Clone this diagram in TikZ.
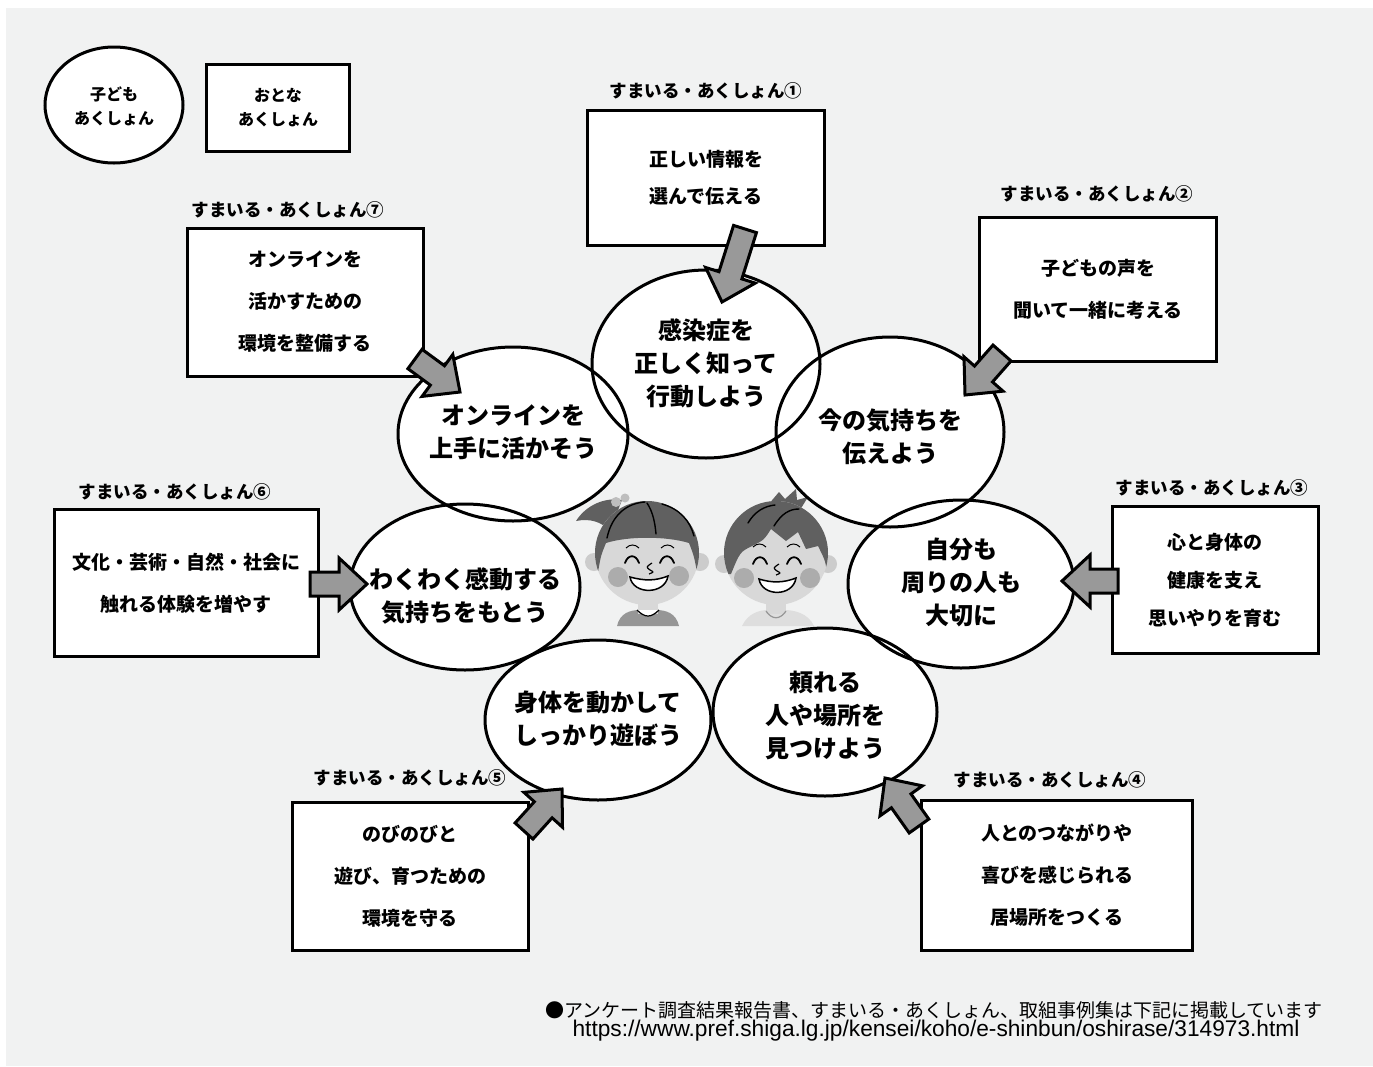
\documentclass[tikz,border=0pt]{standalone}
\usepackage{fontspec}
\setmainfont{Noto Sans CJK JP}
\newfontfamily\urlfont{Liberation Sans}
\usetikzlibrary{calc}

\definecolor{bg}{RGB}{241,242,242}
\definecolor{arrowgray}{RGB}{153,153,153}
\definecolor{hairgray}{RGB}{96,96,96}
\definecolor{skin}{RGB}{216,216,216}
\definecolor{earskin}{RGB}{204,204,204}
\definecolor{cheek}{RGB}{172,172,172}
\definecolor{bowgray}{RGB}{190,190,190}
\definecolor{shirtdark}{RGB}{150,150,150}
\definecolor{shirtlight}{RGB}{222,222,222}

% fat block arrow from tail #1 to tip #2
\newcommand\fatarrow[2]{%
  \coordinate (fab) at ($(#2)!28pt!(#1)$);
  \filldraw[fat] ($(#1)!12pt!90:(#2)$) -- ($(fab)!12pt!90:(#2)$)
    -- ($(fab)!26pt!90:(#2)$) -- (#2) -- ($(fab)!26pt!-90:(#2)$)
    -- ($(fab)!12pt!-90:(#2)$) -- ($(#1)!12pt!-90:(#2)$) -- cycle;}

\begin{document}
\begin{tikzpicture}
  [x=1pt,y=-1pt,
   kidline/.style={line width=3pt},
   kidtext/.style={align=center,font=\fontsize{24}{33}\selectfont\bfseries},
   boxline/.style={draw,fill=white,line width=3pt,inner sep=0pt},
   boxtext/.style={align=center,font=\fontsize{19}{42}\selectfont\bfseries},
   tag/.style={font=\fontsize{17.5}{20}\selectfont\bfseries},
   fat/.style={fill=arrowgray,draw=black,line width=3pt,line join=miter},
   strand/.style={line width=1.4pt,line cap=round},
   feature/.style={line width=1.8pt,line cap=round}]
  \useasboundingbox (0,0) rectangle (1373,1066);
  \fill[bg] (6,8) rectangle (1373,1066);

  % legend
  \draw[kidline,fill=white] (114,105) ellipse [x radius=69pt, y radius=58pt];
  \node[align=center,font=\fontsize{16}{24}\selectfont\bfseries] (lk) at (114,106) {子ども\\あくしょん};
  \node[boxline,minimum width=143pt,minimum height=87pt,align=center,
        font=\fontsize{16}{24}\selectfont\bfseries] (la) at (278,108) {おとな\\あくしょん};

  % girl
  \fill[shirtdark] (617,626) .. controls (620,613) and (630,610) .. (640,610)
    -- (656,610) .. controls (666,610) and (676,613) .. (679,626) -- cycle;
  \fill[skin] (638,596) rectangle (658,614);
  \draw[line width=1.2pt,fill=white] (637,610) .. controls (645,618) and (651,618) .. (659,610);
  \fill[earskin] (594,562) circle (9pt) (700,562) circle (9pt);
  \fill[hairgray] (622,500) .. controls (605,497) and (586,505) .. (576,521)
    .. controls (590,518) and (602,522) .. (610,531) -- cycle;
  \fill[bowgray] (616,502) circle (5pt) (625,498) circle (4.5pt);
  \fill[skin] (647,553) circle (52pt);
  \begin{scope}
    \clip (647,553) circle (52pt);
    \fill[hairgray] (590,495) -- (705,495) -- (705,572) -- (697,572)
      .. controls (694,556) .. (689,543) .. controls (666,536) and (628,536) .. (606,543)
      .. controls (601,555) .. (598,572) -- (590,572) -- cycle;
  \end{scope}
  \draw[strand] (607,538) .. controls (612,514) and (628,503) .. (645,502);
  \draw[strand] (647,503) .. controls (653,512) and (655,523) .. (656,534);
  \draw[strand] (662,504) .. controls (680,509) and (690,521) .. (694,536);
  \draw[line width=1pt] (626,548) .. controls (630,544) and (635,544) .. (639,548)
    (661,548) .. controls (665,544) and (670,544) .. (674,548);
  \draw[feature] (625,563) .. controls (628,554) and (636,554) .. (639,563)
    (660,563) .. controls (663,554) and (671,554) .. (674,563);
  \draw[line width=1.2pt] (652,563) .. controls (646,567) .. (650,570) .. controls (654,572) .. (649,574);
  \fill[cheek] (618,577) circle (10pt) (679,576) circle (10pt);
  \filldraw[fill=white,line width=1.5pt] (630,577) .. controls (645,581) and (655,581) .. (668,576)
    .. controls (665,595) and (633,595) .. cycle;

  % boy
  \fill[shirtlight] (742,626) .. controls (748,613) and (760,610) .. (768,610)
    -- (784,610) .. controls (794,610) and (808,613) .. (814,626) -- cycle;
  \fill[skin] (766,596) rectangle (786,614);
  \draw[line width=1.2pt,draw=shirtdark] (766,611) .. controls (772,620) and (780,620) .. (786,611);
  \fill[earskin] (724,564) circle (9pt) (828,564) circle (9pt);
  \fill[hairgray] (768,505) -- (779,492) -- (785,499) -- (796,489) -- (797,500) -- (808,497) -- (800,510) -- cycle;
  \fill[skin] (776,553) circle (52pt);
  \begin{scope}
    \clip (776,553) circle (52pt);
    \fill[hairgray] (720,495) -- (835,495) -- (835,578) -- (827,578)
      .. controls (826,562) .. (818,546) -- (806,549) -- (798,532) -- (786,541)
      -- (771,529) .. controls (764,540) .. (752,546) .. controls (740,552) .. (731,574)
      -- (720,574) -- cycle;
  \end{scope}
  \draw[strand] (748,523) .. controls (755,511) and (765,506) .. (775,505);
  \draw[strand] (774,526) .. controls (782,513) and (790,509) .. (799,509);
  \draw[line width=1pt] (753,547) .. controls (757,543) and (762,543) .. (766,547)
    (787,547) .. controls (791,543) and (796,543) .. (800,547);
  \draw[feature] (753,564) .. controls (756,555) and (764,555) .. (767,564)
    (787,564) .. controls (790,555) and (798,555) .. (801,564);
  \draw[line width=1.2pt] (779,564) .. controls (773,568) .. (777,571) .. controls (781,573) .. (776,575);
  \fill[cheek] (744,578) circle (10pt) (810,578) circle (10pt);
  \filldraw[fill=white,line width=1.5pt] (759,579) .. controls (772,583) and (783,583) .. (796,578)
    .. controls (793,597) and (762,597) .. cycle;

  % child actions
  \foreach \x/\y/\rx/\ry in {706/364/114/94, 890/432/114/95, 961/584/113/84,
      825/712/112/84, 598/720/113/80, 465/587/115/83, 513/434/115/87}
    \fill[white] (\x,\y) ellipse [x radius=\rx pt, y radius=\ry pt];
  \foreach \x/\y/\rx/\ry in {706/364/114/94, 890/432/114/95, 961/584/113/84,
      825/712/112/84, 598/720/113/80, 465/587/115/83, 513/434/115/87}
    \draw[kidline] (\x,\y) ellipse [x radius=\rx pt, y radius=\ry pt];
  \node[kidtext] (k1) at (706,363) {感染症を\\正しく知って\\行動しよう};
  \node[kidtext] (k2) at (890,437) {今の気持ちを\\伝えよう};
  \node[kidtext] (k3) at (961,582) {自分も\\周りの人も\\大切に};
  \node[kidtext] (k4) at (825,715) {頼れる\\人や場所を\\見つけよう};
  \node[kidtext] (k5) at (598,719) {身体を動かして\\しっかり遊ぼう};
  \node[kidtext] (k6) at (465,596) {わくわく感動する\\気持ちをもとう};
  \node[kidtext] (k7) at (513,432) {オンラインを\\上手に活かそう};

  % adult actions
  \node[boxline,minimum width=237pt,minimum height=135pt] (b1) at (706,178) {};
  \node[boxline,minimum width=237pt,minimum height=144pt] (b2) at (1098,289) {};
  \node[boxline,minimum width=206pt,minimum height=147pt] (b3) at (1215,580) {};
  \node[boxline,minimum width=271pt,minimum height=150pt] (b4) at (1057,875) {};
  \node[boxline,minimum width=236pt,minimum height=148pt] (b5) at (410,876) {};
  \node[boxline,minimum width=264pt,minimum height=147pt] (b6) at (186,583) {};
  \node[boxline,minimum width=236pt,minimum height=148pt] (b7) at (305,302) {};
  \node[boxtext,font=\fontsize{19}{37}\selectfont\bfseries] at (b1) {正しい情報を\\選んで伝える};
  \node[boxtext] at (b2) {子どもの声を\\聞いて一緒に考える};
  \node[boxtext,font=\fontsize{19}{38}\selectfont\bfseries] at (b3) {心と身体の\\健康を支え\\思いやりを育む};
  \node[boxtext] at (b4) {人とのつながりや\\喜びを感じられる\\居場所をつくる};
  \node[boxtext] at (b5) {のびのびと\\遊び、育つための\\環境を守る};
  \node[boxtext] at (b6) {文化・芸術・自然・社会に\\触れる体験を増やす};
  \node[boxtext] at (b7) {オンラインを\\活かすための\\環境を整備する};

  \node[tag] (s1) at (706,91) {すまいる・あくしょん①};
  \node[tag] (s2) at (1097,194) {すまいる・あくしょん②};
  \node[tag] (s3) at (1212,488) {すまいる・あくしょん③};
  \node[tag] (s4) at (1050,780) {すまいる・あくしょん④};
  \node[tag] (s5) at (410,778) {すまいる・あくしょん⑤};
  \node[tag] (s6) at (175,492) {すまいる・あくしょん⑥};
  \node[tag] (s7) at (288,210) {すまいる・あくしょん⑦};

  % arrows from the boxes into the ellipses
  \coordinate (t1) at (745,229); \coordinate (h1) at (722,302);
  \coordinate (t2) at (1002,353); \coordinate (h2) at (965,395);
  \coordinate (t3) at (1118,581); \coordinate (h3) at (1062,581);
  \coordinate (t4) at (919,826); \coordinate (h4) at (885,778);
  \coordinate (t5) at (524,831); \coordinate (h5) at (562,789);
  \coordinate (t6) at (310,584); \coordinate (h6) at (367,584);
  \coordinate (t7) at (415,359); \coordinate (h7) at (460,392);
  \foreach \from/\to in {t1/h1,t2/h2,t3/h3,t4/h4,t5/h5,t6/h6,t7/h7}
    \fatarrow{\from}{\to};

  % source note
  \node[font=\fontsize{19}{22}\selectfont] (note) at (934,1010)
    {●アンケート調査結果報告書、すまいる・あくしょん、取組事例集は下記に掲載しています};
  \node[font=\fontsize{22.7}{24}\urlfont] (url) at (936,1031)
    {https://www.pref.shiga.lg.jp/kensei/koho/e-shinbun/oshirase/314973.html};
\end{tikzpicture}
\end{document}
